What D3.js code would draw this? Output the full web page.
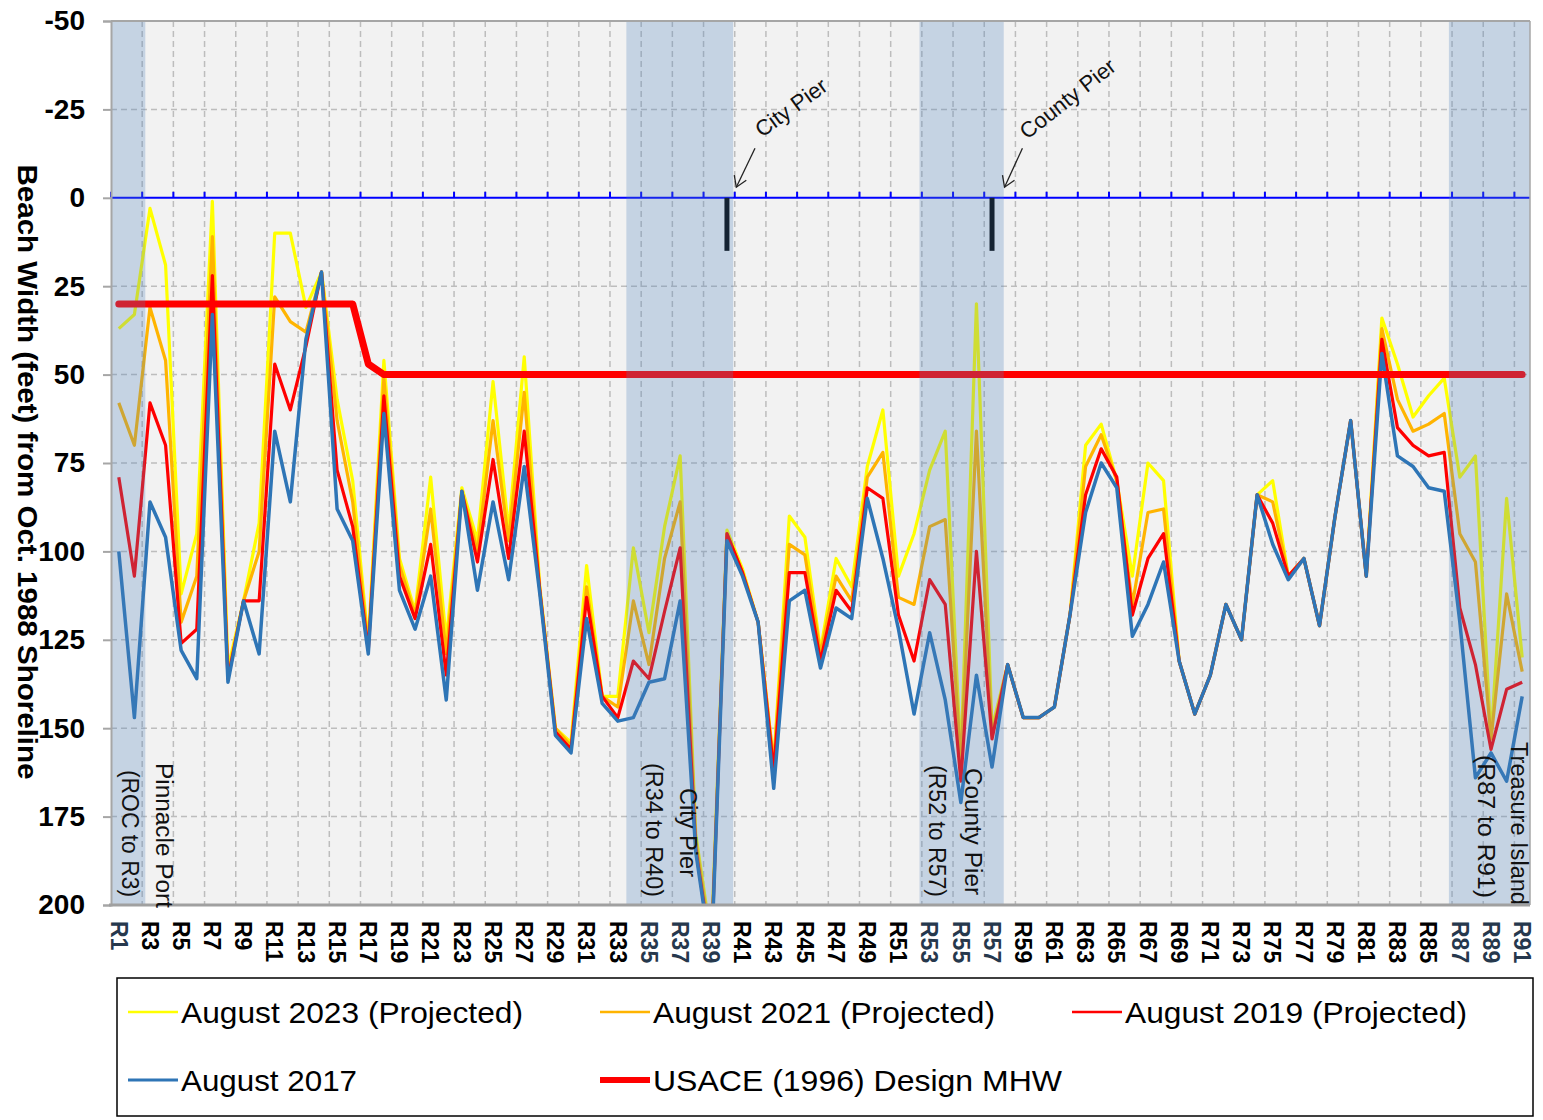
<!DOCTYPE html>
<html>
<head>
<meta charset="utf-8">
<script src="https://cdn.jsdelivr.net/npm/d3@7"></script>
<style>
  body { margin: 0; background: #fff; }
  svg { display: block; }
</style>
</head>
<body>
<svg id="chart" width="1543" height="1120"></svg>
<script>
// profile numbers R1..R91
const profiles = d3.range(1, 92);

// beach width (feet), R1..R91
const aug2023 = [37, 33, 3, 19, 112, 95, 1, 133, 114, 92, 10, 10, 31, 21, 57, 80, 126, 46, 102, 117,
  79, 125, 82, 97, 52, 94, 45, 110, 150, 154, 104, 141, 141, 99, 123, 93, 73, 180, 210, 94,
  105, 120, 160, 90, 96, 128, 102, 110, 76, 60, 107, 95, 77, 66, 159, 30, 150, 132, 147, 147,
  144, 118, 70, 64, 80, 107, 75, 80, 131, 146, 135, 115, 125, 84, 80, 107, 102, 121, 90, 63,
  107, 34, 47, 62, 56, 51, 79, 73, 153, 85, 130];
const aug2021 = [58, 70, 31, 46, 120, 107, 11, 135, 114, 100, 28, 35, 38, 21, 63, 86, 127, 51, 104, 118,
  88, 129, 83, 100, 63, 97, 55, 111, 150, 155, 110, 141, 144, 114, 132, 102, 86, 182, 212, 95,
  106, 120, 160, 98, 101, 129, 107, 114, 79, 72, 113, 115, 93, 91, 160, 66, 152, 132, 147, 147,
  144, 118, 76, 67, 80, 115, 89, 88, 131, 146, 135, 115, 125, 84, 86, 107, 102, 121, 90, 63,
  107, 37, 57, 66, 64, 61, 95, 103, 153, 112, 134];
const aug2019 = [79, 107, 58, 70, 126, 122, 22, 136, 114, 114, 47, 60, 42, 21, 77, 93, 128, 56, 107, 119,
  98, 135, 83, 103, 74, 102, 66, 111, 151, 156, 113, 141, 147, 131, 136, 117, 99, 184, 214, 95,
  106, 120, 162, 106, 106, 131, 111, 117, 82, 85, 118, 131, 108, 115, 165, 100, 153, 132, 147, 147,
  144, 118, 84, 71, 79, 118, 102, 95, 131, 146, 135, 115, 125, 84, 92, 107, 102, 121, 90, 63,
  107, 40, 65, 70, 73, 72, 116, 132, 156, 139, 137];
const aug2017 = [100, 147, 86, 96, 128, 136, 33, 137, 114, 129, 66, 86, 40, 21, 88, 97, 129, 61, 111, 122,
  107, 142, 83, 111, 86, 108, 76, 112, 152, 157, 119, 143, 148, 147, 137, 136, 114, 185, 215, 97,
  107, 120, 167, 114, 111, 133, 116, 119, 85, 102, 122, 146, 123, 142, 171, 135, 161, 132, 147, 147,
  144, 118, 89, 75, 82, 124, 115, 103, 131, 146, 135, 115, 125, 84, 98, 108, 102, 121, 90, 63,
  107, 44, 73, 76, 82, 83, 120, 164, 157, 165, 141];
const designMHW = profiles.map(p => p <= 16 ? 30 : (p === 17 ? 47 : 50));

const seriesList = [
  { name: "August 2023 (Projected)", values: aug2023, color: "#ffff00", width: 3.2 },
  { name: "August 2021 (Projected)", values: aug2021, color: "#ffb400", width: 3.2 },
  { name: "August 2019 (Projected)", values: aug2019, color: "#ff0000", width: 3.2 },
  { name: "August 2017", values: aug2017, color: "#2e75b6", width: 3.5 }
];

// shaded reaches (in profile units)
const bands = [
  { from: 0.5, to: 2.7 },
  { from: 33.55, to: 40.4 },
  { from: 52.35, to: 57.75 },
  { from: 86.3, to: 91.5 }
];
const piers = [
  { at: 40, name: "City Pier" },
  { at: 57, name: "County Pier" }
];
const yTicks = [-50, -25, 0, 25, 50, 75, 100, 125, 150, 175, 200];

const svg = d3.select("#chart");
const plotL = 111, plotR = 1530, plotT = 21, plotB = 905;

const x = d3.scaleLinear().domain([0.5, 91.5]).range([plotL, plotR]);
const y = d3.scaleLinear().domain([-50, 200]).range([plotT, plotB]);

svg.append("defs").append("clipPath").attr("id", "plotclip")
  .append("rect").attr("x", plotL).attr("y", plotT)
  .attr("width", plotR - plotL).attr("height", plotB - plotT);

// plot background
svg.append("rect")
  .attr("x", plotL).attr("y", plotT)
  .attr("width", plotR - plotL).attr("height", plotB - plotT)
  .attr("fill", "#f2f2f2");

// horizontal grid
svg.append("g").selectAll("line")
  .data(yTicks.filter(d => d !== -50 && d !== 0 && d !== 200))
  .enter().append("line")
  .attr("x1", plotL).attr("x2", plotR)
  .attr("y1", d => y(d)).attr("y2", d => y(d))
  .attr("stroke", "#bdbdbd").attr("stroke-width", 1.5)
  .attr("stroke-dasharray", "6,4");

// vertical grid every second profile
const vBounds = d3.range(2.5, 91, 2);
svg.append("g").selectAll("line")
  .data(vBounds)
  .enter().append("line")
  .attr("x1", d => x(d)).attr("x2", d => x(d))
  .attr("y1", plotT).attr("y2", plotB)
  .attr("stroke", "#bdbdbd").attr("stroke-width", 1.5)
  .attr("stroke-dasharray", "6,4");

// zero line with small ticks
svg.append("line")
  .attr("x1", plotL).attr("x2", plotR)
  .attr("y1", y(0)).attr("y2", y(0))
  .attr("stroke", "#0000ff").attr("stroke-width", 2);
svg.append("g").selectAll("line")
  .data([0.5].concat(vBounds))
  .enter().append("line")
  .attr("x1", d => x(d)).attr("x2", d => x(d))
  .attr("y1", y(0) - 6).attr("y2", y(0))
  .attr("stroke", "#0000ff").attr("stroke-width", 2);

// data lines
const line = d3.line()
  .x((d, i) => x(profiles[i]))
  .y(d => y(d));

const lines = svg.append("g").attr("clip-path", "url(#plotclip)");
seriesList.forEach(s => {
  lines.append("path")
    .datum(s.values)
    .attr("d", line)
    .attr("fill", "none")
    .attr("stroke", s.color)
    .attr("stroke-width", s.width)
    .attr("stroke-linejoin", "round");
});

lines.append("path")
  .datum(designMHW)
  .attr("d", line)
  .attr("fill", "none")
  .attr("stroke", "#ff0000")
  .attr("stroke-width", 7)
  .attr("stroke-linecap", "round")
  .attr("stroke-linejoin", "round");

// pier structures
svg.append("g").selectAll("line")
  .data(piers)
  .enter().append("line")
  .attr("x1", d => x(d.at)).attr("x2", d => x(d.at))
  .attr("y1", y(0)).attr("y2", y(15))
  .attr("stroke", "#000").attr("stroke-width", 5);

// shaded reaches on top
svg.append("g").selectAll("rect")
  .data(bands)
  .enter().append("rect")
  .attr("x", d => x(d.from)).attr("y", plotT)
  .attr("width", d => x(d.to) - x(d.from))
  .attr("height", plotB - plotT)
  .attr("fill", "rgba(79,129,189,0.27)");

// axes frame
svg.append("line").attr("x1", plotL).attr("x2", plotR).attr("y1", plotT).attr("y2", plotT)
  .attr("stroke", "#a6a6a6").attr("stroke-width", 2);
svg.append("line").attr("x1", plotR).attr("x2", plotR).attr("y1", plotT).attr("y2", plotB)
  .attr("stroke", "#a6a6a6").attr("stroke-width", 1.5);

const yAxis = d3.axisLeft(y).tickValues(yTicks).tickFormat(d => String(d))
  .tickSize(8).tickPadding(18);
const yg = svg.append("g").attr("transform", `translate(${plotL},0)`).call(yAxis);
yg.select(".domain").attr("stroke", "#a6a6a6").attr("stroke-width", 2);
yg.selectAll(".tick line").attr("stroke", "#a6a6a6").attr("stroke-width", 2);
yg.selectAll(".tick text")
  .attr("font-family", "Liberation Sans, Arial, sans-serif")
  .attr("font-weight", "bold").attr("font-size", 28).attr("fill", "#000")
  .attr("x", -26);

svg.append("line").attr("x1", plotL - 2).attr("x2", plotR).attr("y1", plotB).attr("y2", plotB)
  .attr("stroke", "#a0a0a0").attr("stroke-width", 3);

// x labels, every second profile, reading downward
const inBand = p => bands.some(b => p > b.from && p < b.to);
svg.append("g").selectAll("text")
  .data(profiles.filter(p => p % 2 === 1))
  .enter().append("text")
  .attr("transform", d => `translate(${x(d)},${plotB + 16}) rotate(90)`)
  .attr("dy", "0.36em")
  .attr("font-family", "Liberation Sans, Arial, sans-serif")
  .attr("font-weight", "bold").attr("font-size", 23)
  .attr("fill", d => inBand(d) ? "#26384d" : "#000")
  .text(d => "R" + d);

// y title
svg.append("text")
  .attr("transform", `translate(28,472) rotate(90)`)
  .attr("text-anchor", "middle").attr("dy", "0.36em")
  .attr("font-family", "Liberation Sans, Arial, sans-serif")
  .attr("font-weight", "bold").attr("font-size", 28)
  .attr("textLength", 615).attr("lengthAdjust", "spacingAndGlyphs")
  .text("Beach Width (feet) from Oct. 1988 Shoreline");

// reach labels inside shaded bands
const bandText = [
  { text: "(ROC to R3)", cx: 130, y0: 770, len: 127 },
  { text: "Pinnacle Port", cx: 164, y0: 763, len: 145 },
  { text: "(R34 to R40)", cx: 654, y0: 763, len: 134 },
  { text: "City Pier", cx: 688, y0: 788, len: 89 },
  { text: "(R52 to R57)", cx: 937, y0: 765, len: 132 },
  { text: "County Pier", cx: 973, y0: 768, len: 127 },
  { text: "(R87 to R91)", cx: 1486, y0: 755, len: 143 },
  { text: "Treasure Island", cx: 1519, y0: 742, len: 163 }
];
svg.append("g").selectAll("text")
  .data(bandText)
  .enter().append("text")
  .attr("transform", d => `translate(${d.cx},${d.y0}) rotate(90)`)
  .attr("dy", "0.36em")
  .attr("font-family", "Liberation Sans, Arial, sans-serif")
  .attr("font-size", 23)
  .attr("textLength", d => d.len).attr("lengthAdjust", "spacingAndGlyphs")
  .attr("fill", "#111")
  .text(d => d.text);

// pier call-outs with arrows
const callouts = [
  { name: "City Pier", tip: [x(40.6), y(-3)], tail: [x(41.8), y(-14)], textAt: [762, 138], angle: -36 },
  { name: "County Pier", tip: [x(57.8), y(-3)], tail: [x(58.95), y(-14)], textAt: [1027, 140], angle: -38 }
];
callouts.forEach(c => {
  const g = svg.append("g").attr("stroke", "#222").attr("stroke-width", 1.3).attr("fill", "none");
  g.append("line").attr("x1", c.tail[0]).attr("y1", c.tail[1]).attr("x2", c.tip[0]).attr("y2", c.tip[1]);
  g.append("polyline")
    .attr("points", `${c.tip[0] - 2},${c.tip[1] - 12} ${c.tip[0]},${c.tip[1]} ${c.tip[0] + 10},${c.tip[1] - 7}`);
  svg.append("text")
    .attr("transform", `translate(${c.textAt[0]},${c.textAt[1]}) rotate(${c.angle})`)
    .attr("font-family", "Liberation Sans, Arial, sans-serif")
    .attr("font-size", 22).attr("fill", "#111")
    .text(c.name);
});

// legend
const legend = svg.append("g");
legend.append("rect")
  .attr("x", 117).attr("y", 978).attr("width", 1416).attr("height", 138)
  .attr("fill", "#fff").attr("stroke", "#000").attr("stroke-width", 1.5);

const legendItems = [
  { name: seriesList[0].name, color: seriesList[0].color, w: 2.5, x0: 128, y0: 1012, len: 342 },
  { name: seriesList[1].name, color: seriesList[1].color, w: 2.5, x0: 600, y0: 1012, len: 342 },
  { name: seriesList[2].name, color: seriesList[2].color, w: 2.5, x0: 1072, y0: 1012, len: 342 },
  { name: seriesList[3].name, color: seriesList[3].color, w: 3, x0: 128, y0: 1080, len: 176 },
  { name: "USACE (1996) Design MHW", color: "#ff0000", w: 6, x0: 600, y0: 1080, len: 409 }
];
legendItems.forEach(it => {
  legend.append("line")
    .attr("x1", it.x0).attr("x2", it.x0 + 50)
    .attr("y1", it.y0).attr("y2", it.y0)
    .attr("stroke", it.color).attr("stroke-width", it.w);
  legend.append("text")
    .attr("x", it.x0 + 53).attr("y", it.y0).attr("dy", "0.36em")
    .attr("font-family", "Liberation Sans, Arial, sans-serif")
    .attr("font-size", 30)
    .attr("textLength", it.len).attr("lengthAdjust", "spacingAndGlyphs")
    .text(it.name);
});
</script>
</body>
</html>
